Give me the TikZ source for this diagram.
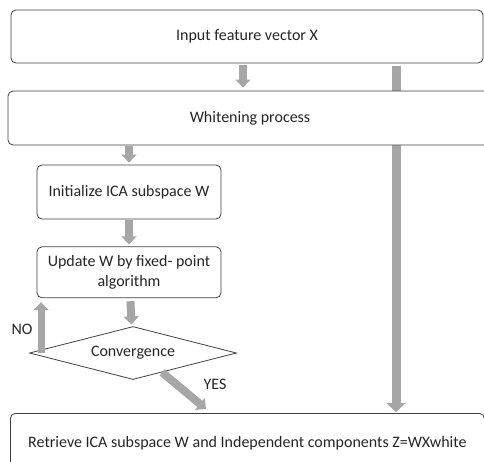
\documentclass[tikz,border=0pt]{standalone}
\usepackage{fontspec}
\setmainfont{Carlito}
\usetikzlibrary{positioning, shapes.geometric, arrows.meta, calc, backgrounds}
\definecolor{BoxLine}{RGB}{64, 64, 64}
\definecolor{FlowGray}{RGB}{166, 166, 166}
\definecolor{TextDark}{RGB}{38, 38, 38}

\begin{document}
\begin{tikzpicture}[x=1pt, y=-1pt, font=\fontsize{16}{19.5}\selectfont, text=TextDark,
      stepbox/.style={rectangle, rounded corners=5pt, draw=BoxLine, fill=white, line width=0.8pt, align=center},
      decision/.style={diamond, aspect=3.9, draw=BoxLine, fill=white, line width=0.8pt, inner sep=0pt},
      flow/.style={draw=FlowGray, line width=8pt, -{Triangle[width=15pt, length=8pt]}},
      bigflow/.style={draw=FlowGray, line width=9pt, -{Triangle[width=19pt, length=9pt]}}
    ]
      \useasboundingbox (0,0) rectangle (484,461);

      \node[stepbox, minimum width=472pt, minimum height=53pt] (input) at (247,36.5) {Input feature vector X};
      \node[stepbox, minimum width=484pt, minimum height=54pt] (whiten) at (250,118) {Whitening process};
      \node[stepbox, minimum width=184pt, minimum height=54pt] (init) at (129,192) {Initialize ICA subspace W};
      \node[stepbox, minimum width=184pt, minimum height=51pt, inner sep=2pt, below=27pt of init] (update) {Update W by fixed- point\\algorithm};
      \node[decision, minimum width=207pt, minimum height=53pt] (conv) at (133,353) {Convergence};
      \node[stepbox, minimum width=474pt, minimum height=60pt, anchor=north west] (result) at (10,413)
        {Retrieve ICA subspace W and Independent components Z=WXwhite};

      \node (no) at (22,329) {NO};
      \node (yes) at (215,384) {YES};

      \coordinate (bypass) at (396,0);
      \coordinate (loopx) at (41,0);
      \coordinate (yesend) at (206,409);

      \draw[flow, shorten <=2pt, shorten >=3pt] (input.south -| 243,0) -- (whiten.north -| 243,0);
      \draw[flow, shorten <=1pt, shorten >=2pt] (whiten.south -| init) -- (init);
      \draw[flow, shorten <=1pt, shorten >=2pt] (init) -- (update);
      \draw[flow, shorten <=3pt, shorten >=2pt] (update) -- (conv);
      \draw[flow, line width=7pt, shorten >=4pt] (conv.west -| loopx) -- (update.south -| loopx);
      \draw[flow] ($(conv.south)!0.28!(conv.east)$) -- (yesend);
      \begin{pgfonlayer}{background}
        \draw[bigflow, shorten <=3pt, shorten >=1pt] (input.south -| bypass) -- (result.north -| bypass);
      \end{pgfonlayer}
    \end{tikzpicture}
\end{document}
